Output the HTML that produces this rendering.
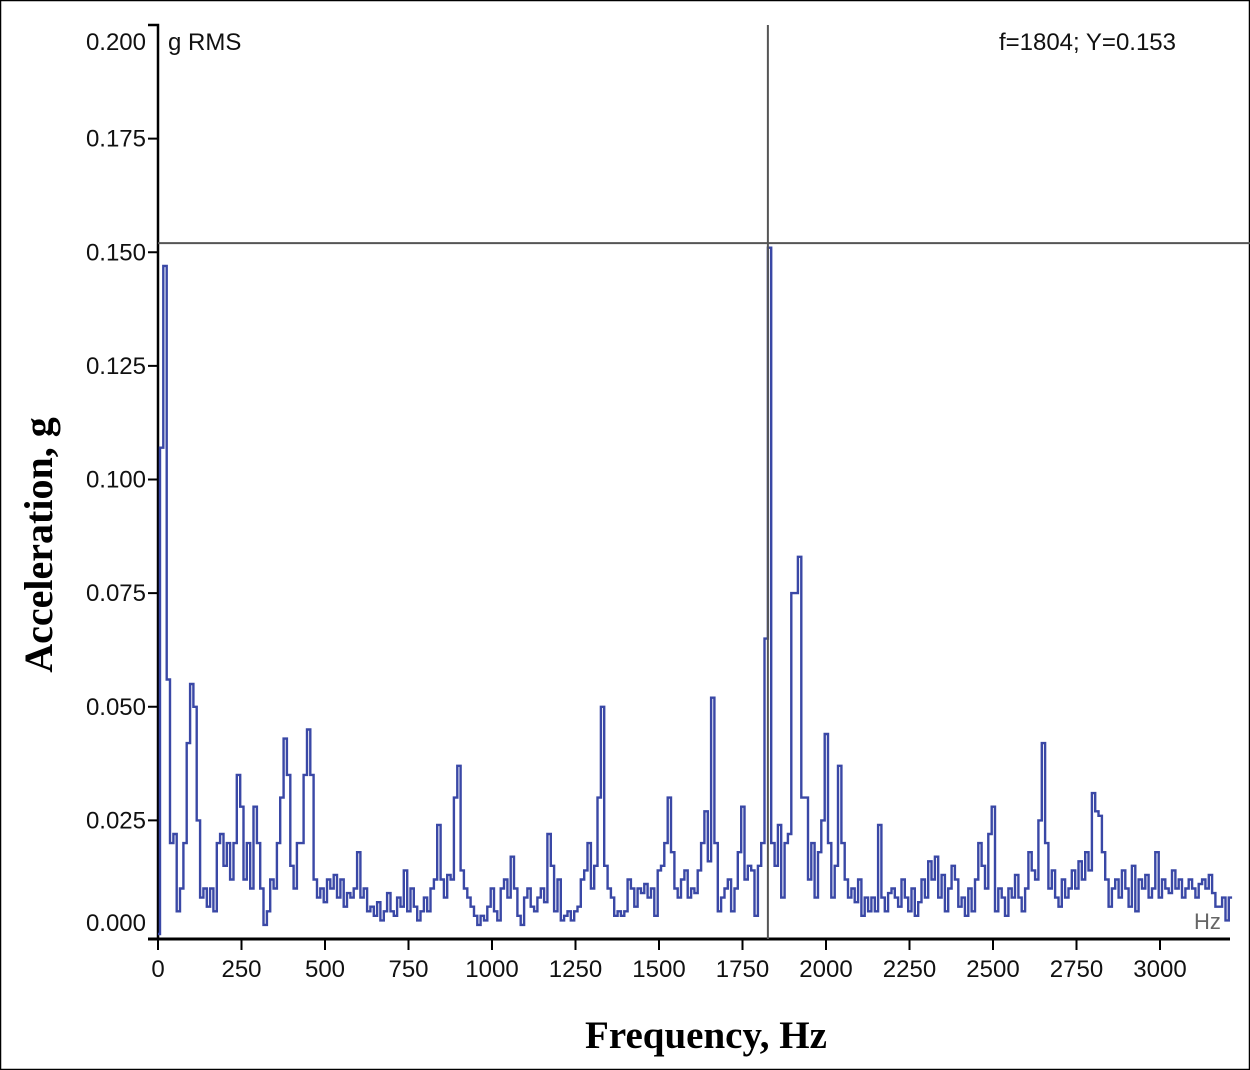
<!DOCTYPE html>
<html><head><meta charset="utf-8"><style>
html,body{margin:0;padding:0;background:#fff}
svg{display:block}
</style></head><body>
<svg width="1250" height="1070" viewBox="0 0 1250 1070" xmlns="http://www.w3.org/2000/svg">
<rect x="0.5" y="0.5" width="1249" height="1069" fill="#fff" stroke="#000" stroke-width="1.5"/>
<g id="ticks"></g>
<path id="series" fill="none" stroke="#3a48a6" stroke-width="2.4"/>
<line id="crossV" stroke="#555" stroke-width="2"/>
<line id="crossH" stroke="#555" stroke-width="2"/>
<text x="168" y="50" font-family="Liberation Sans, sans-serif" font-size="24" fill="#111">g RMS</text>
<text x="1176" y="50" text-anchor="end" font-family="Liberation Sans, sans-serif" font-size="24" fill="#111">f=1804; Y=0.153</text>
<text x="1194" y="929" font-family="Liberation Sans, sans-serif" font-size="22" fill="#666">Hz</text>
<text x="706" y="1048" text-anchor="middle" font-family="Liberation Serif, serif" font-weight="bold" font-size="39" fill="#000">Frequency, Hz</text>
<text transform="translate(52,545) rotate(-90)" text-anchor="middle" font-family="Liberation Serif, serif" font-weight="bold" font-size="40" fill="#000">Acceleration, g</text>
</svg>
<script>
const binStepHz = 10;
const valuesMilliG = [
0,107,147,56,20,22,5,10,20,42,55,50,25,8,10,6,10,5,20,22,15,20,12,20,35,28,12,20,10,28,20,10,2,5,12,10,20,30,43,35,15,10,20,20,35,45,35,12,8,10,
7,12,10,13,8,12,6,9,8,10,18,8,10,5,6,4,7,3,5,9,5,4,8,6,14,5,10,6,3,5,8,5,10,12,24,12,8,13,12,30,37,14,10,8,6,4,2,4,3,6,
10,5,3,10,12,8,17,10,4,2,8,10,6,5,8,10,7,22,15,5,12,3,4,5,3,5,6,12,14,20,10,15,30,50,15,10,8,4,5,4,5,12,10,6,10,9,11,8,10,4,
14,15,20,30,18,10,8,12,14,8,10,9,14,20,27,16,52,20,5,8,10,12,5,10,18,28,12,15,14,4,15,20,65,151,20,15,24,8,20,22,75,75,83,30,30,12,20,8,18,25,
44,20,8,15,37,20,12,8,10,7,12,4,8,5,8,5,24,8,5,9,10,8,6,12,8,5,10,4,7,12,8,16,12,17,8,13,5,10,15,12,6,8,4,10,5,12,20,15,10,22,
28,5,10,8,4,10,8,13,8,5,10,18,14,12,25,42,20,10,14,8,6,12,8,10,14,10,16,12,18,14,31,27,26,18,12,6,10,12,8,14,10,6,15,5,12,10,13,8,10,18,
8,12,10,9,14,10,12,8,10,12,10,8,11,12,10,13,9,6,6,8,3,8
];
const xTicks = [0,250,500,750,1000,1250,1500,1750,2000,2250,2500,2750,3000];
const yTicks = [0,0.025,0.05,0.075,0.1,0.125,0.15,0.175,0.2];
const yTickLabels = ["0.000","0.025","0.050","0.075","0.100","0.125","0.150","0.175","0.200"];
const cursorHz = 1826;
const cursorG = 0.152;

const X0=158, PXHZ=0.334, Y0=934, YTOP=25;
const xs = f => X0 + f*PXHZ;
const ys = v => Y0 - v/0.2*(Y0-YTOP);
const NS="http://www.w3.org/2000/svg";
const g=document.getElementById('ticks');
function mk(tag,attrs){const e=document.createElementNS(NS,tag);for(const k in attrs)e.setAttribute(k,attrs[k]);g.appendChild(e);return e;}

let d='';
valuesMilliG.forEach((m,i)=>{
  const x1=xs(Math.max(0,(i-0.4)*binStepHz)), x2=xs((i+0.6)*binStepHz), y=ys(m/1000);
  d += (i===0?'M':'L')+x1.toFixed(1)+','+y.toFixed(1)+'L'+x2.toFixed(1)+','+y.toFixed(1);
});
document.getElementById('series').setAttribute('d',d);

const yAxis=mk('path',{d:`M148,${YTOP}H158V940`,fill:'none',stroke:'#000','stroke-width':2.5});


const xAxis=mk('line',{x1:148,y1:939,x2:1230,y2:939,stroke:'#000','stroke-width':3});



yTicks.forEach((v,i)=>{
  const y=ys(v);
  if(i>0 && i<yTicks.length-1){
    const t=mk('line',{x1:148,y1:y,x2:158,y2:y,stroke:'#000','stroke-width':2});
    
    
  }
  let ly=y+8; if(i===0) ly=y-3; if(i===yTicks.length-1) ly=y+25;
  const l=mk('text',{x:146,y:ly,'text-anchor':'end','font-family':'Liberation Sans, sans-serif','font-size':24,fill:'#111'});
  l.textContent=yTickLabels[i];
  
  
});
xTicks.forEach(f=>{
  const x=xs(f);
  const t=mk('line',{x1:x,y1:939,x2:x,y2:950,stroke:'#000','stroke-width':2});
  
  
  const l=mk('text',{x:x,y:977,'text-anchor':'middle','font-family':'Liberation Sans, sans-serif','font-size':24,fill:'#111'});
  l.textContent=String(f);
  
  
});

const cv=document.getElementById('crossV');
cv.setAttribute('x1',xs(cursorHz));cv.setAttribute('x2',xs(cursorHz));cv.setAttribute('y1',YTOP);cv.setAttribute('y2',939);
const ch=document.getElementById('crossH');
ch.setAttribute('x1',158);ch.setAttribute('x2',1250);ch.setAttribute('y1',ys(cursorG));ch.setAttribute('y2',ys(cursorG));
</script>
</body></html>
